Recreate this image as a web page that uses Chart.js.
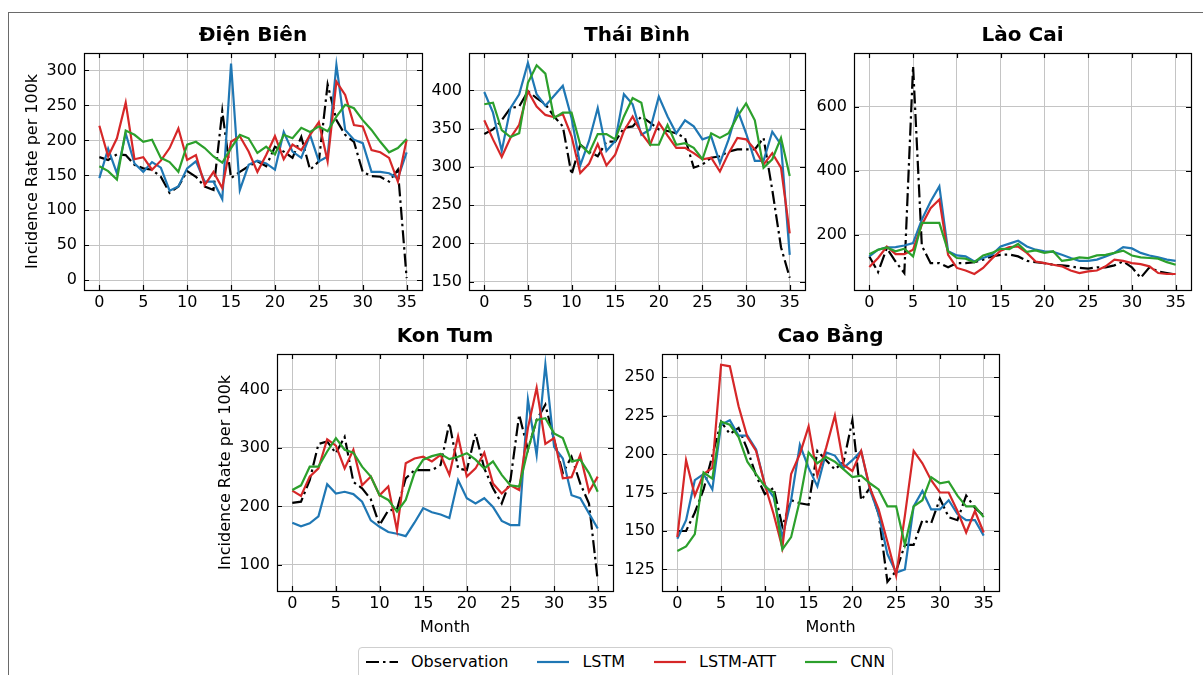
<!DOCTYPE html>
<html>
<head>
<meta charset="utf-8">
<script src="https://cdn.jsdelivr.net/npm/chart.js@4/dist/chart.umd.min.js"></script>
<style>
  html, body { margin: 0; padding: 0; background: #fff; }
  body { width: 1203px; height: 675px; position: relative; overflow: hidden; font-family: "DejaVu Sans", sans-serif; }
  #fig { position: absolute; left: 0; top: 0; width: 1203px; height: 675px; }
  #outline { position: absolute; left: 8px; top: 12px; width: 1250px; height: 700px; border-left: 1px solid #6a6a6a; border-top: 1px solid #6a6a6a; }
  canvas { position: absolute; }
  #legend { position: absolute; left: 358px; top: 647px; height: 40px; border: 1px solid #cfcfcf; border-radius: 4px; background: #fff;
            display: flex; align-items: flex-start; padding: 0 7px; box-sizing: border-box; }
  #legend .item { display: flex; align-items: center; height: 28px; margin-right: 29px; }
  #legend .item:last-child { margin-right: 0; }
  #legend svg { width: 32px; height: 10px; margin-right: 13px; }
  #legend span { font-size: 16px; color: #000; line-height: 28px; }
</style>
</head>
<body>
<div id="fig">
  <div id="outline"></div>
  <div id="legend">
    <div class="item"><svg viewBox="0 0 32 10"><line x1="0" y1="5" x2="32" y2="5" stroke="#000" stroke-width="2.2" stroke-dasharray="13 4 2.5 4"/></svg><span>Observation</span></div>
    <div class="item"><svg viewBox="0 0 32 10"><line x1="0" y1="5" x2="32" y2="5" stroke="#1f77b4" stroke-width="2.2"/></svg><span>LSTM</span></div>
    <div class="item"><svg viewBox="0 0 32 10"><line x1="0" y1="5" x2="32" y2="5" stroke="#d62728" stroke-width="2.2"/></svg><span>LSTM-ATT</span></div>
    <div class="item"><svg viewBox="0 0 32 10"><line x1="0" y1="5" x2="32" y2="5" stroke="#2ca02c" stroke-width="2.2"/></svg><span>CNN</span></div>
  </div>
</div>
<script>
// ---- data: monthly incidence rate per 100k, months 0..35 ----
const months = [0,1,2,3,4,5,6,7,8,9,10,11,12,13,14,15,16,17,18,19,20,21,22,23,24,25,26,27,28,29,30,31,32,33,34,35];
const monthTicks = [0,5,10,15,20,25,30,35];

const dienBienObs  = [176,172,180,179,165,160,158,148,125,134,156,148,134,129,242,146,155,163,170,163,191,184,175,205,158,170,280,229,208,198,155,149,148,141,158,3];
const dienBienLstm = [146,188,153,210,167,155,169,161,128,134,160,170,141,141,116,310,129,165,171,167,158,212,184,175,208,170,177,308,215,201,196,155,155,153,146,183];
const dienBienAtt  = [221,177,203,254,173,176,158,171,189,217,172,179,136,155,132,198,206,184,155,179,206,173,194,186,208,226,170,284,265,222,220,186,183,175,141,201];
const dienBienCnn  = [163,156,144,214,208,198,201,175,169,155,194,198,189,177,168,189,208,203,182,191,180,208,203,218,212,220,213,234,251,246,229,215,198,183,189,202];
const dienBienTicks = [0,50,100,150,200,250,300];

const thaiBinhObs  = [343,349,361,377,379,399,390,382,366,353,290,329,320,314,333,333,351,353,366,358,349,347,344,338,299,303,312,314,320,323,323,323,338,270,195,155];
const thaiBinhLstm = [398,371,321,377,395,436,395,380,393,406,364,302,334,377,321,334,395,382,342,349,392,366,344,361,353,336,340,305,336,375,344,308,308,346,329,185];
const thaiBinhAtt  = [361,336,313,338,355,399,379,368,365,369,340,292,304,330,302,316,347,366,344,329,358,341,325,325,318,310,312,294,318,338,336,323,303,318,299,213];
const thaiBinhCnn  = [382,384,348,339,344,410,433,422,364,371,371,329,318,343,343,336,366,390,384,329,329,355,329,331,325,310,344,338,344,366,383,361,299,310,338,288];
const thaiBinhTicks = [150,200,250,300,350,400];

const laoCaiObs  = [132,83,158,116,80,727,165,111,111,98,111,111,114,122,132,137,138,132,118,114,111,106,104,101,96,94,98,98,104,116,98,65,98,85,80,75];
const laoCaiLstm = [132,153,160,161,166,174,247,304,351,148,135,132,116,127,137,163,172,181,163,153,148,146,137,127,118,118,122,132,143,161,157,143,135,129,122,118];
const laoCaiAtt  = [99,127,163,139,139,153,231,283,310,137,96,88,77,96,125,150,161,163,143,116,111,106,101,88,80,85,88,101,122,118,111,108,101,80,77,77];
const laoCaiCnn  = [139,153,160,148,156,132,237,237,237,148,127,125,114,135,143,156,155,171,146,151,143,148,118,122,129,127,135,137,143,150,135,129,127,125,114,106];
const laoCaiTicks = [200,400,600];

const konTumObs  = [206,208,245,307,311,291,319,242,231,212,168,193,195,248,262,262,262,271,343,265,262,325,265,231,205,245,357,297,348,374,314,257,285,239,205,73];
const konTumLstm = [172,166,171,183,238,222,225,221,208,176,165,156,153,149,172,197,190,186,180,245,214,205,214,199,175,168,168,383,288,443,302,282,219,214,188,162];
const konTumAtt  = [227,218,251,265,315,304,265,297,236,251,219,234,159,274,282,285,277,288,254,320,251,265,292,239,222,236,228,334,403,307,317,248,250,288,225,251];
const konTumCnn  = [228,236,268,268,294,317,297,292,268,251,219,211,191,211,257,280,286,290,281,285,291,280,265,277,254,236,234,297,348,351,325,317,277,280,257,225];
const konTumTicks = [100,200,300,400];

const caoBangObs  = [150,150,162,177,199,221,213,217,203,186,174,178,153,170,168,167,202,196,190,195,222,170,178,161,117,124,141,141,157,155,171,159,157,173,165,160];
const caoBangLstm = [145,157,183,187,177,219,222,212,212,203,180,172,146,170,206,191,179,201,199,191,196,202,177,161,135,123,125,166,176,164,164,170,161,157,157,147];
const caoBangAtt  = [146,196,173,187,191,258,257,231,211,202,180,161,139,187,200,218,186,204,225,193,189,202,178,164,143,121,160,202,194,183,175,175,163,149,163,149];
const caoBangCnn  = [137,140,148,188,184,221,219,211,195,187,179,175,138,146,170,201,194,198,195,190,185,186,181,177,166,166,141,166,170,185,181,182,173,166,166,159];
const caoBangTicks = [125,150,175,200,225,250];

// ---- layout (plot-area rectangles in page pixels) and styling ----
const FONT = "'DejaVu Sans', sans-serif";
const AX_W = 70, AX_H = 45, TITLE_H = 30, PAD_R = 8, TICK_LEN = 5;
const TITLE_SIZE = 20;
const COLORS = { obs: '#000000', lstm: '#1f77b4', att: '#d62728', cnn: '#2ca02c' };

const panels = [
  { title: 'Điện Biên', obs: dienBienObs, lstm: dienBienLstm, att: dienBienAtt, cnn: dienBienCnn, ticks: dienBienTicks, yMin: -14, yMax: 325,
    rect: { l: 84, t: 53, r: 422, b: 290 }, yTitle: true, xTitle: false },
  { title: 'Thái Bình', obs: thaiBinhObs, lstm: thaiBinhLstm, att: thaiBinhAtt, cnn: thaiBinhCnn, ticks: thaiBinhTicks, yMin: 139, yMax: 449,
    rect: { l: 469, t: 53, r: 805, b: 290 }, yTitle: false, xTitle: false },
  { title: 'Lào Cai', obs: laoCaiObs, lstm: laoCaiLstm, att: laoCaiAtt, cnn: laoCaiCnn, ticks: laoCaiTicks, yMin: 27, yMax: 768,
    rect: { l: 854, t: 53, r: 1191, b: 290 }, yTitle: false, xTitle: false },
  { title: 'Kon Tum', obs: konTumObs, lstm: konTumLstm, att: konTumAtt, cnn: konTumCnn, ticks: konTumTicks, yMin: 55, yMax: 461,
    rect: { l: 277, t: 354, r: 613, b: 591 }, yTitle: true, xTitle: true },
  { title: 'Cao Bằng', obs: caoBangObs, lstm: caoBangLstm, att: caoBangAtt, cnn: caoBangCnn, ticks: caoBangTicks, yMin: 111, yMax: 265,
    rect: { l: 662, t: 354, r: 999, b: 591 }, yTitle: false, xTitle: true }
];

// frame around the plot area with inward tick marks on all four sides
const axesFrame = {
  id: 'axesFrame',
  afterDatasetsDraw(chart) {
    const { ctx, chartArea: a, scales: { x, y } } = chart;
    ctx.save();
    ctx.strokeStyle = '#000';
    ctx.lineWidth = 1.2;
    ctx.beginPath();
    x.ticks.forEach(t => {
      const px = Math.round(x.getPixelForValue(t.value)) + 0.5;
      ctx.moveTo(px, a.bottom); ctx.lineTo(px, a.bottom - TICK_LEN);
      ctx.moveTo(px, a.top); ctx.lineTo(px, a.top + TICK_LEN);
    });
    y.ticks.forEach(t => {
      const py = Math.round(y.getPixelForValue(t.value)) + 0.5;
      ctx.moveTo(a.left, py); ctx.lineTo(a.left + TICK_LEN, py);
      ctx.moveTo(a.right, py); ctx.lineTo(a.right - TICK_LEN, py);
    });
    ctx.stroke();
    ctx.strokeRect(Math.round(a.left) + 0.5, Math.round(a.top) + 0.5, Math.round(a.right - a.left), Math.round(a.bottom - a.top));
    ctx.restore();
  }
};

function seriesDataset(label, values, color, order, dash) {
  return {
    label,
    data: months.map((m, i) => ({ x: m, y: values[i] })),
    borderColor: color,
    backgroundColor: color,
    borderWidth: 2.2,
    borderDash: dash || [],
    pointRadius: 0,
    tension: 0,
    fill: false,
    order
  };
}

function drawPanel(p) {
  const cv = document.createElement('canvas');
  const W = p.rect.r - p.rect.l + AX_W + PAD_R;
  const H = p.rect.b - p.rect.t + TITLE_H + AX_H;
  cv.width = W; cv.height = H;
  cv.style.width = W + 'px'; cv.style.height = H + 'px';
  cv.style.left = (p.rect.l - AX_W) + 'px';
  cv.style.top = (p.rect.t - TITLE_H) + 'px';
  document.getElementById('fig').appendChild(cv);

  const tickFont = { family: FONT, size: 16 };
  new Chart(cv, {
    type: 'line',
    data: {
      datasets: [
        seriesDataset('Observation', p.obs, COLORS.obs, 4, [13, 4, 2.5, 4]),
        seriesDataset('LSTM', p.lstm, COLORS.lstm, 3),
        seriesDataset('LSTM-ATT', p.att, COLORS.att, 2),
        seriesDataset('CNN', p.cnn, COLORS.cnn, 1)
      ]
    },
    options: {
      responsive: false,
      animation: false,
      devicePixelRatio: 1,
      layout: { padding: { left: 0, right: PAD_R, top: 0, bottom: 0 } },
      plugins: {
        legend: { display: false },
        tooltip: { enabled: false },
        title: {
          display: true, text: p.title, fullSize: false, color: '#000',
          font: { family: FONT, size: TITLE_SIZE, weight: 'bold', lineHeight: 1.1 },
          padding: { top: 2, bottom: TITLE_H - 2 - TITLE_SIZE * 1.1 }
        }
      },
      scales: {
        x: {
          type: 'linear', min: -1.75, max: 36.75, bounds: 'data',
          afterBuildTicks: s => { s.ticks = monthTicks.map(v => ({ value: v })); },
          afterFit: s => { s.height = AX_H; },
          grid: { color: '#c4c4c4', lineWidth: 1, drawTicks: false },
          border: { display: false },
          ticks: { font: tickFont, color: '#000', padding: 3, maxRotation: 0, autoSkip: false },
          title: { display: p.xTitle, text: 'Month', color: '#000', font: { family: FONT, size: 16, lineHeight: 1.0 }, padding: { top: 0, bottom: 0 } }
        },
        y: {
          type: 'linear', min: p.yMin, max: p.yMax, bounds: 'data',
          afterBuildTicks: s => { s.ticks = p.ticks.map(v => ({ value: v })); },
          afterFit: s => { s.width = AX_W; },
          grid: { color: '#c4c4c4', lineWidth: 1, drawTicks: false },
          border: { display: false },
          ticks: { font: tickFont, color: '#000', padding: 7, autoSkip: false },
          title: { display: p.yTitle, text: 'Incidence Rate per 100k', color: '#000', font: { family: FONT, size: 16 }, padding: { top: 9.6, bottom: 0 } }
        }
      }
    },
    plugins: [axesFrame]
  });
}

panels.forEach(drawPanel);
</script>
</body>
</html>
